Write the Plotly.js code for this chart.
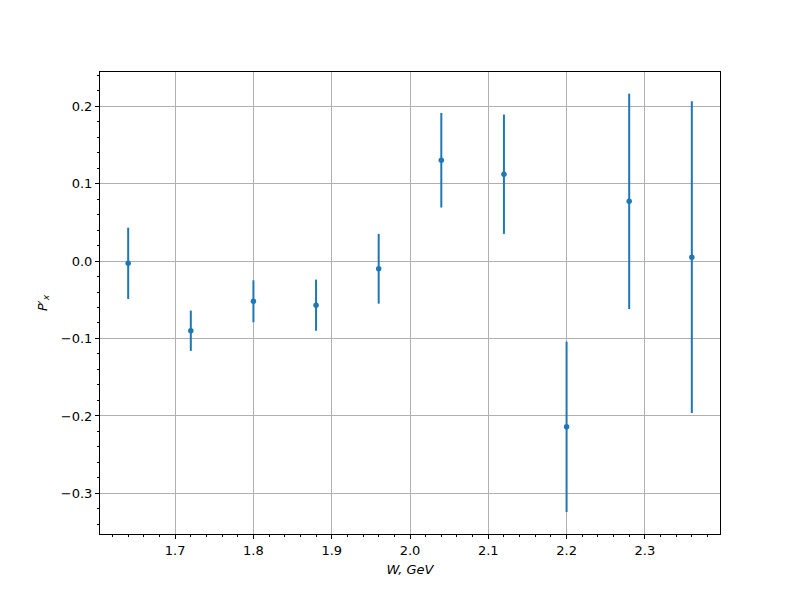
<!DOCTYPE html>
<html>
<head>
<meta charset="utf-8">
<script src="https://cdn.plot.ly/plotly-3.0.1.min.js"></script>
<style>html,body{margin:0;padding:0;background:#fff;}#chart{width:800px;height:600px;}</style>
</head>
<body>
<div id="chart"></div>
<script>
const W = [1.64, 1.72, 1.80, 1.88, 1.96, 2.04, 2.12, 2.20, 2.28, 2.36];
const Px = [-0.003, -0.090, -0.052, -0.057, -0.010, 0.130, 0.112, -0.214, 0.077, 0.005];
const Perr = [0.046, 0.026, 0.027, 0.033, 0.045, 0.061, 0.077, 0.110, 0.139, 0.201];
const xTicks = [1.7, 1.8, 1.9, 2.0, 2.1, 2.2, 2.3];
const yTicks = [-0.3, -0.2, -0.1, 0.0, 0.1, 0.2];

const trace = {
  x: W, y: Px, type: 'scatter', mode: 'markers',
  marker: {color: '#1f77b4', size: 5.5},
  error_y: {type: 'data', array: Perr, visible: true, color: '#1f77b4', thickness: 2, width: 0}
};

const axisCommon = {
  showline: true, linecolor: '#000', linewidth: 1, mirror: true,
  ticks: 'outside', ticklen: 4, tickwidth: 1, tickcolor: '#000',
  showgrid: true, gridcolor: '#b0b0b0', gridwidth: 1,
  zeroline: false,
  tickfont: {family: 'DejaVu Sans', size: 13, color: '#000'},
  tickformat: '.1f'
};

const layout = {
  width: 800, height: 600,
  margin: {l: 100, r: 80, t: 72, b: 66},
  paper_bgcolor: '#fff', plot_bgcolor: '#fff',
  showlegend: false,
  xaxis: Object.assign({}, axisCommon, {
    range: [1.604, 2.396], tickmode: 'array', tickvals: xTicks,
    minor: {dtick: 0.02, tick0: 1.6, ticks: 'outside', ticklen: 2, tickcolor: '#000', showgrid: false},
    title: {text: '<i>W, GeV</i>', font: {family: 'DejaVu Sans', size: 13, color: '#000'}, standoff: 8}
  }),
  yaxis: Object.assign({}, axisCommon, {
    range: [-0.3523, 0.2439], tickmode: 'array', tickvals: yTicks,
    minor: {dtick: 0.02, tick0: 0, ticks: 'outside', ticklen: 2, tickcolor: '#000', showgrid: false},
    title: {text: '<i>P′<sub>x</sub></i>', font: {family: 'DejaVu Sans', size: 13, color: '#000'}, standoff: 10}
  })
};

Plotly.newPlot('chart', [trace], layout, {displayModeBar: false});
</script>
</body>
</html>
